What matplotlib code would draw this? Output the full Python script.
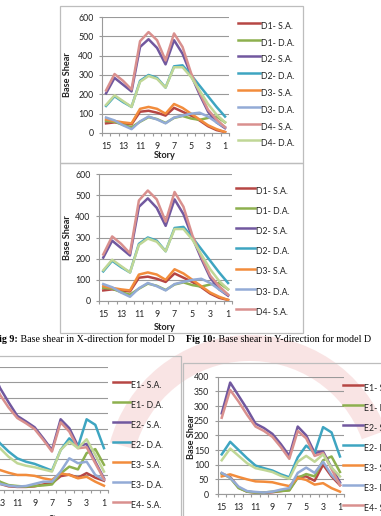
import matplotlib
matplotlib.use("Agg")
import matplotlib.pyplot as plt
from matplotlib.lines import Line2D
from matplotlib.patches import Rectangle, Wedge
from matplotlib.transforms import IdentityTransform

# stories, shown 15 -> 1
stories = list(range(15, 0, -1))
tick_stories = [15, 13, 11, 9, 7, 5, 3, 1]

# model D (values listed for story 15 ... 1)
d1_sa = [50, 55, 50, 45, 110, 115, 105, 90, 130, 110, 90, 65, 35, 15, 5]
d1_da = [62, 58, 42, 30, 58, 82, 72, 52, 78, 88, 75, 68, 78, 85, 55]
d2_sa = [205, 285, 250, 215, 445, 485, 440, 355, 480, 410, 300, 200, 110, 55, 25]
d2_da = [140, 190, 160, 135, 270, 300, 285, 235, 345, 350, 300, 245, 190, 135, 85]
d3_sa = [70, 62, 55, 50, 125, 135, 125, 100, 150, 130, 100, 70, 40, 20, 5]
d3_da = [80, 65, 40, 20, 60, 85, 70, 50, 80, 90, 100, 105, 85, 55, 30]
d4_sa = [220, 305, 270, 225, 475, 522, 480, 375, 515, 445, 310, 210, 120, 70, 30]
d4_da = [145, 195, 165, 135, 265, 295, 280, 235, 340, 340, 290, 220, 150, 95, 55]

# model E, X-direction
ex_e1_sa = [70, 50, 20, 12, 10, 10, 12, 18, 22, 45, 50, 40, 55, 40, 30]
ex_e1_da = [65, 55, 27, 16, 13, 11, 13, 15, 18, 54, 76, 67, 120, 133, 82]
ex_e2_sa = [290, 400, 332, 285, 241, 223, 204, 168, 130, 230, 201, 143, 150, 92, 38]
ex_e2_da = [150, 190, 152, 125, 103, 92, 85, 74, 63, 130, 168, 141, 230, 212, 136]
ex_e3_sa = [62, 72, 65, 56, 49, 49, 46, 38, 33, 54, 49, 38, 43, 27, 14]
ex_e3_da = [75, 58, 20, 14, 11, 13, 20, 27, 27, 60, 103, 87, 92, 49, 33]
ex_e4_sa = [270, 375, 310, 268, 234, 217, 198, 163, 125, 220, 190, 136, 139, 87, 35]
ex_e4_da = [125, 165, 136, 108, 87, 79, 74, 67, 60, 130, 158, 136, 165, 114, 60]

# model E, Y-direction
ey_e1_sa = [70, 58, 22, 8, 5, 4, 6, 10, 14, 58, 60, 45, 100, 60, 30]
ey_e1_da = [70, 55, 20, 8, 5, 5, 8, 10, 12, 55, 68, 60, 115, 128, 75]
ey_e2_sa = [275, 380, 335, 290, 240, 225, 205, 170, 130, 230, 200, 140, 145, 90, 40]
ey_e2_da = [135, 178, 150, 122, 97, 88, 80, 67, 57, 125, 165, 140, 228, 210, 128]
ey_e3_sa = [60, 67, 58, 50, 43, 42, 40, 33, 27, 55, 48, 32, 37, 20, 8]
ey_e3_da = [72, 55, 25, 10, 7, 5, 8, 15, 20, 72, 90, 72, 110, 65, 35]
ey_e4_sa = [260, 355, 315, 270, 230, 215, 195, 160, 120, 215, 190, 130, 140, 85, 30]
ey_e4_da = [115, 155, 130, 105, 88, 82, 75, 62, 52, 110, 130, 110, 135, 90, 60]

colors = ['#B64644', '#8DB04E', '#71589F', '#3EA5C1',
          '#F28C3C', '#93ABD6', '#D9908E', '#C0D796']
names_d = ['D1- S.A.', 'D1- D.A.', 'D2- S.A.', 'D2- D.A.',
           'D3- S.A.', 'D3- D.A.', 'D4- S.A.', 'D4- D.A.']
names_e = ['E1- S.A.', 'E1- D.A.', 'E2- S.A.', 'E2- D.A.',
           'E3- S.A.', 'E3- D.A.', 'E4- S.A.', 'E4- D.A.']
series_d = [d1_sa, d1_da, d2_sa, d2_da, d3_sa, d3_da, d4_sa, d4_da]
series_ex = [ex_e1_sa, ex_e1_da, ex_e2_sa, ex_e2_da, ex_e3_sa, ex_e3_da, ex_e4_sa, ex_e4_da]
series_ey = [ey_e1_sa, ey_e1_da, ey_e2_sa, ey_e2_da, ey_e3_sa, ey_e3_da, ey_e4_sa, ey_e4_da]

W, H = 381, 516
fig = plt.figure(figsize=(W / 100, H / 100), dpi=100)
fig.patch.set_facecolor('white')

FONT = 'Lato'
GRID = '#9A9A9A'
BORDER = '#BDBDBD'


def fx(x):
    return x / W


def fy(y):
    return 1 - y / H


# faint watermark of the page behind the lower charts
fig.patches.append(Wedge((250, H - 480), 145, 20, 165, width=26, transform=IdentityTransform(),
                         facecolor='#F0B4B4', alpha=0.35, lw=0, zorder=-5))


def frame(l, t, r, b):
    fig.add_artist(Rectangle((fx(l), fy(b)), (r - l) / W, (b - t) / H,
                             transform=fig.transFigure, fill=False,
                             edgecolor=BORDER, lw=0.9, zorder=0))


def chart(l, r, t, b, series, ymax, ystep, show_y=True, show_15=True):
    ax = fig.add_axes([fx(l), fy(b), (r - l) / W, (b - t) / H])
    ax.patch.set_alpha(0)
    for vals, c in zip(series, colors):
        ax.plot(stories, vals, color=c, lw=1.8, solid_joinstyle='round', clip_on=False)
    ax.set_xlim(15.5, 0.5)
    ax.set_ylim(0, ymax)
    ax.set_xticks(tick_stories)
    if not show_15:
        ax.set_xticklabels([''] + [str(s) for s in tick_stories[1:]])
    ax.set_xticks([s + 0.5 for s in range(0, 16)], minor=True)
    ax.set_yticks(range(0, ymax + 1, ystep))
    if not show_y:
        ax.set_yticklabels([])
    ax.yaxis.grid(True, color=GRID, lw=0.8)
    ax.set_axisbelow(True)
    for s in ['top', 'right']:
        ax.spines[s].set_visible(False)
    for s in ['left', 'bottom']:
        ax.spines[s].set_color(GRID)
        ax.spines[s].set_linewidth(0.8)
    ax.tick_params(axis='x', which='major', length=0, pad=6.5, labelsize=6.3, colors='#222222')
    ax.tick_params(axis='x', which='minor', length=2.5, color=GRID, width=0.8)
    ax.tick_params(axis='y', length=2.5, color=GRID, width=0.8, pad=3.5, labelsize=6.3,
                   labelcolor='#222222')
    for lab in ax.get_xticklabels() + ax.get_yticklabels():
        lab.set_fontfamily(FONT)
    return ax


def legend(x0, x1, y0, dy, names, n):
    for i in range(n):
        y = y0 + i * dy
        fig.add_artist(Line2D([fx(x0), fx(x1)], [fy(y), fy(y)], transform=fig.transFigure,
                              color=colors[i], lw=1.8))
        fig.text(fx(x1 + 1), fy(y + 3.5), names[i], fontsize=6.3, family=FONT,
                 color='#222222', va='center', ha='left')


def axis_labels(xl, yl=None, size=6.6):
    fig.text(fx(xl[0]), fy(xl[1]), 'Story', fontsize=size, family=FONT, weight='bold',
             ha='center', va='center', color='#222222')
    if yl is not None:
        fig.text(fx(yl[0]), fy(yl[1]), 'Base Shear', fontsize=size, family=FONT, weight='bold',
                 ha='center', va='center', rotation=90, color='#222222')


# top chart (Fig 9, X-direction model D)
frame(60, 6, 303, 163)
chart(101.8, 229.3, 17, 133, series_d, 600, 100)
legend(238, 260, 22.7, 16.8, names_d, 8)
axis_labels((165, 155.5), (68, 75))

# second chart (Fig 10, Y-direction model D)
frame(60, 163, 303, 333)
chart(98.8, 232.5, 174, 301, series_d, 600, 100)
legend(236, 255, 187.7, 20.2, names_d, 7)
axis_labels((165, 327), (68, 238))

# captions
for x, num, rest in [(-7, 'Fig 9:', ' Base shear in X-direction for model D'),
                     (186, 'Fig 10:', ' Base shear in Y-direction for model D')]:
    t = fig.text(fx(x), fy(339), num, fontsize=7.2, family='Liberation Serif',
                 weight='bold', va='center', ha='left')
    fig.canvas.draw()
    bb = t.get_window_extent()
    fig.text(bb.x1 / W, fy(339), rest, fontsize=7.2, family='Liberation Serif',
             va='center', ha='left')

# bottom-left chart (X-direction model E), its left part lies off the page
frame(-20, 356, 181, 540)
chart(-21.7, 108.3, 367, 490, series_ex, 400, 50, show_y=False, show_15=False)
legend(113, 130, 382, 20, names_e, 7)
axis_labels((60, 519))

# bottom-right chart (Y-direction model E)
frame(183, 363, 400, 540)
chart(217.5, 344.2, 376.7, 494, series_ey, 400, 50)
legend(343, 363, 385, 20, names_e, 7)
axis_labels((281, 521), (192, 437))

fig.savefig('out.png', dpi=100)
